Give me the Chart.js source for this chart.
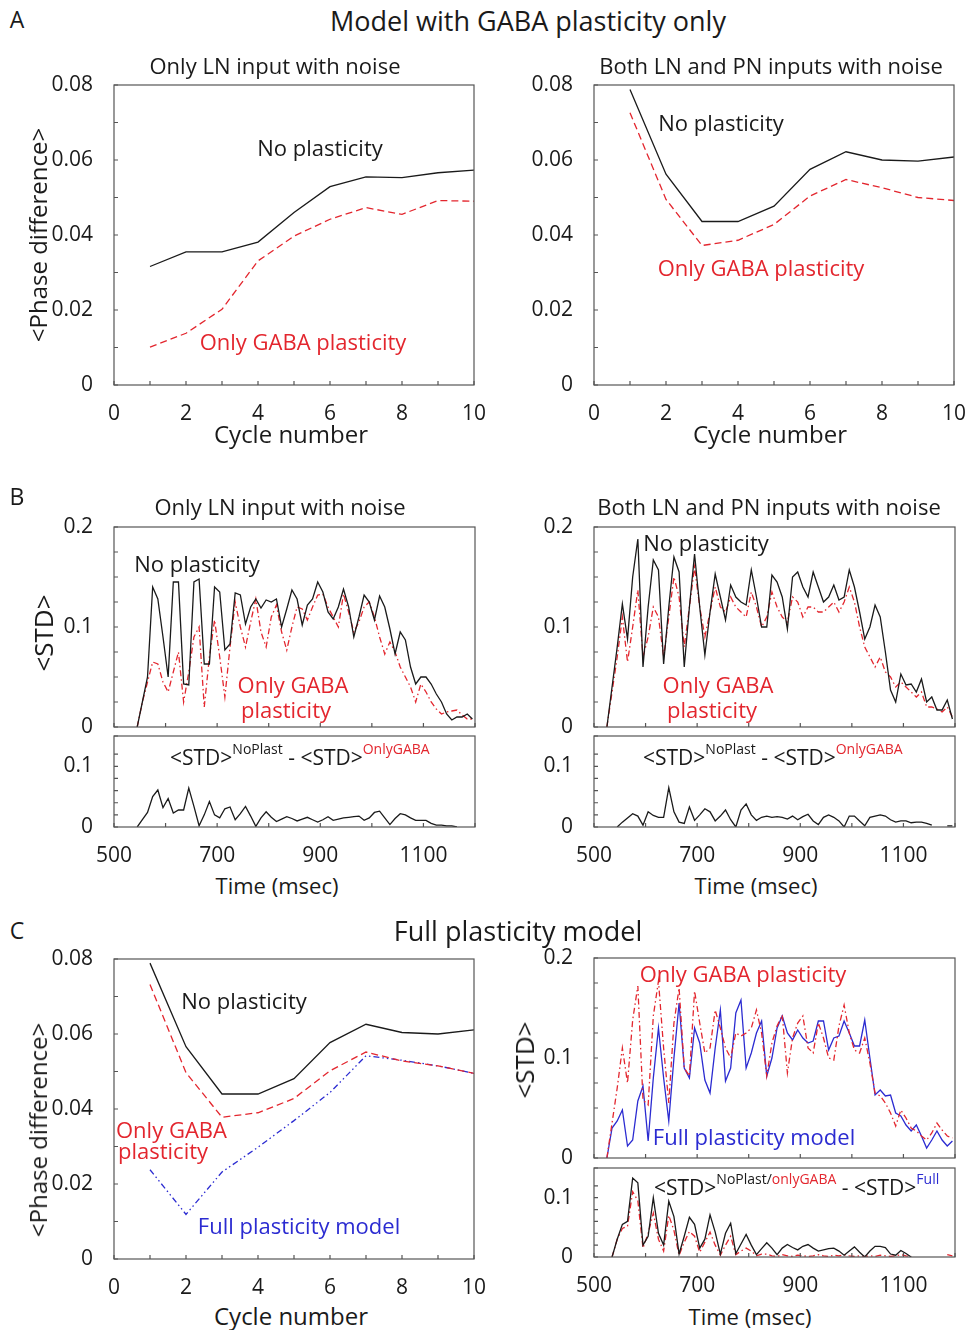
<!DOCTYPE html>
<html>
<head>
<meta charset="utf-8">
<script src="https://cdn.jsdelivr.net/npm/chart.js@4"></script>
<style>
  body { margin: 0; background: #fff; }
  #fig { position: relative; width: 972px; height: 1330px; font-family: "Open Sans", sans-serif; color: #1a1a1a; overflow: hidden; }
  .t { position: absolute; white-space: nowrap; line-height: 1; transform: translate(-50%, -50%); }
  .l { position: absolute; white-space: nowrap; line-height: 1; transform: translate(0, -50%); }
  .rot { position: absolute; white-space: nowrap; line-height: 1; transform: translate(-50%, -50%) rotate(-90deg); font-size: 24px; }
  .red { color: #e3262e; }
  .blue { color: #2b2bd1; }
  .sup { font-size: 14px; position: relative; top: -11px; }
</style>
</head>
<body>
<div id="fig">
  <div class="t" style="left:17px;top:19px;font-size:23px">A</div>
  <div class="t" style="left:528px;top:20px;font-size:27px">Model with GABA plasticity only</div>
  <div class="t" style="left:275px;top:65px;font-size:22px">Only LN input with noise</div>
  <div class="t" style="left:771px;top:65px;font-size:22px">Both LN and PN inputs with noise</div>
  <div class="rot" style="left:38px;top:235px">&lt;Phase difference&gt;</div>
  <div class="t" style="left:291px;top:434px;font-size:24px">Cycle number</div>
  <div class="t" style="left:770px;top:434px;font-size:24px">Cycle number</div>
  <div class="t" style="left:320px;top:147px;font-size:22px">No plasticity</div>
  <div class="t red" style="left:303px;top:341px;font-size:22px">Only GABA plasticity</div>
  <div class="t" style="left:721px;top:122px;font-size:22px">No plasticity</div>
  <div class="t red" style="left:761px;top:267px;font-size:22px">Only GABA plasticity</div>

  <div class="t" style="left:17px;top:496px;font-size:23px">B</div>
  <div class="t" style="left:280px;top:506px;font-size:22px">Only LN input with noise</div>
  <div class="t" style="left:769px;top:506px;font-size:22px">Both LN and PN inputs with noise</div>
  <div class="rot" style="left:43px;top:633px;font-size:26px">&lt;STD&gt;</div>
  <div class="t" style="left:197px;top:563px;font-size:22px">No plasticity</div>
  <div class="t red" style="left:293px;top:684px;font-size:22px">Only GABA</div>
  <div class="t red" style="left:286px;top:709px;font-size:22px">plasticity</div>
  <div class="l" style="left:170px;top:757px;font-size:21px">&lt;STD&gt;<span class="sup">NoPlast</span> - &lt;STD&gt;<span class="sup red">OnlyGABA</span></div>
  <div class="t" style="left:277px;top:885px;font-size:22px">Time (msec)</div>
  <div class="t" style="left:706px;top:542px;font-size:22px">No plasticity</div>
  <div class="t red" style="left:718px;top:684px;font-size:22px">Only GABA</div>
  <div class="t red" style="left:712px;top:709px;font-size:22px">plasticity</div>
  <div class="l" style="left:643px;top:757px;font-size:21px">&lt;STD&gt;<span class="sup">NoPlast</span> - &lt;STD&gt;<span class="sup red">OnlyGABA</span></div>
  <div class="t" style="left:756px;top:885px;font-size:22px">Time (msec)</div>

  <div class="t" style="left:17px;top:930px;font-size:23px">C</div>
  <div class="t" style="left:518px;top:930px;font-size:27px">Full plasticity model</div>
  <div class="rot" style="left:38px;top:1130px">&lt;Phase difference&gt;</div>
  <div class="t" style="left:244px;top:1000px;font-size:22px">No plasticity</div>
  <div class="l red" style="left:116px;top:1129px;font-size:22px">Only GABA</div>
  <div class="l red" style="left:118px;top:1150px;font-size:22px">plasticity</div>
  <div class="t blue" style="left:299px;top:1225px;font-size:22px">Full plasticity model</div>
  <div class="t" style="left:291px;top:1316px;font-size:24px">Cycle number</div>
  <div class="rot" style="left:524px;top:1060px;font-size:26px">&lt;STD&gt;</div>
  <div class="t red" style="left:743px;top:973px;font-size:22px">Only GABA plasticity</div>
  <div class="t blue" style="left:754px;top:1136px;font-size:22px">Full plasticity model</div>
  <div class="l" style="left:654px;top:1187px;font-size:21px">&lt;STD&gt;<span class="sup">NoPlast/<span class="red">onlyGABA</span></span> - &lt;STD&gt;<span class="sup blue">Full</span></div>
  <div class="t" style="left:750px;top:1316px;font-size:22px">Time (msec)</div>
</div>

<script>
// ---- data ----
const cycles = [1, 2, 3, 4, 5, 6, 7, 8, 9, 10];
const cycleTicks = [0, 2, 4, 6, 8, 10];
const phaseTicks = [0, 0.02, 0.04, 0.06, 0.08];

const aLeftNoPlast = [0.0316, 0.0355, 0.0355, 0.0381, 0.046, 0.0529, 0.0555, 0.0553, 0.0566, 0.0573];
const aLeftGaba = [0.0101, 0.0138, 0.0202, 0.0331, 0.0397, 0.0442, 0.0473, 0.0455, 0.0492, 0.049];
const aRightNoPlast = [0.0788, 0.0562, 0.0436, 0.0436, 0.0477, 0.0575, 0.0622, 0.06, 0.0597, 0.0608];
const aRightGaba = [0.0726, 0.0495, 0.0372, 0.0386, 0.0428, 0.0504, 0.0548, 0.0526, 0.05, 0.0492];
const cNoPlast = [0.0789, 0.0566, 0.044, 0.044, 0.0481, 0.0577, 0.0626, 0.0604, 0.06, 0.0611];
const cGaba = [0.0732, 0.0497, 0.0378, 0.039, 0.0428, 0.0502, 0.0552, 0.0528, 0.0515, 0.0495];
const cFull = [0.0238, 0.0119, 0.0232, 0.0298, 0.0369, 0.0444, 0.0542, 0.053, 0.0515, 0.0495];

const timeTicks = [500, 700, 900, 1100];
const stdTicks = [0, 0.1, 0.2];
const diffTicks = [0, 0.1];

const timeMs = [
  525, 535, 545, 555, 565, 575, 585, 595, 605, 615,
  625, 635, 645, 655, 665, 675, 685, 695, 705, 715,
  725, 735, 745, 755, 765, 775, 785, 795, 805, 815,
  825, 835, 845, 855, 865, 875, 885, 895, 905, 915,
  925, 935, 945, 955, 965, 975, 985, 995, 1005, 1015,
  1025, 1035, 1045, 1055, 1065, 1075, 1085, 1095, 1105, 1115,
  1125, 1135, 1145, 1155, 1165, 1175, 1185, 1195
];

const bLeftNoPlast = [
  null, null, 0, 0.025, 0.05, 0.14, 0.128, 0.09, 0.05, 0.145,
  0.145, 0.043, 0.042, 0.145, 0.148, 0.063, 0.063, 0.14, 0.135, 0.077,
  0.083, 0.134, 0.132, 0.103, 0.12, 0.128, 0.119, 0.127, 0.125, 0.128,
  0.1, 0.118, 0.137, 0.128, 0.102, 0.122, 0.128, 0.145, 0.135, 0.115,
  0.108, 0.12, 0.138, 0.12, 0.09, 0.11, 0.132, 0.125, 0.107, 0.131,
  0.12, 0.098, 0.073, 0.095, 0.087, 0.06, 0.043, 0.05, 0.05, 0.043,
  0.033, 0.025, 0.013, 0.007, 0.01, 0.01, 0.013, 0.008
];
const bLeftGaba = [
  null, null, 0, 0.025, 0.045, 0.065, 0.063, 0.045, 0.035, 0.055,
  0.075, 0.025, 0.055, 0.09, 0.1, 0.02, 0.07, 0.107, 0.07, 0.03,
  0.08, 0.125, 0.1, 0.08, 0.105, 0.128, 0.095, 0.08, 0.11, 0.122,
  0.095, 0.077, 0.1, 0.12, 0.118, 0.107, 0.12, 0.132, 0.133, 0.12,
  0.11, 0.1, 0.133, 0.115, 0.095, 0.105, 0.12, 0.125, 0.11, 0.09,
  0.073, 0.085, 0.075, 0.06, 0.05, 0.04, 0.025, 0.043, 0.035, 0.025,
  0.018, 0.013, 0.015, 0.016, 0.017, 0.012, 0.008, 0.008
];
const bLeftDiff = [
  null, null, 0, 0.012, 0.024, 0.05, 0.061, 0.032, 0.047, 0.023,
  0.028, 0.028, 0.064, 0.034, 0.002, 0.02, 0.042, 0.02, 0.015, 0.03,
  0.033, 0.012, 0.022, 0.034, 0.018, 0.001, 0.015, 0.025, 0.016, 0.009,
  0.013, 0.017, 0.014, 0.01, 0.013, 0.016, 0.012, 0.008, 0.012, 0.017,
  0.011, 0.013, 0.015, 0.016, 0.017, 0.018, 0.011, 0.015, 0.024, 0.026,
  0.015, 0.004, 0.014, 0.022, 0.02, 0.015, 0.011, 0.011, 0.011, 0.006,
  0.003, 0.003, 0.002, 0.002, 0, null, null, null
];

const bRightNoPlast = [
  0, 0.04, 0.08, 0.123, 0.088, 0.15, 0.188, 0.06, 0.12, 0.167,
  0.157, 0.063, 0.12, 0.17, 0.155, 0.06, 0.12, 0.173, 0.12, 0.072,
  0.115, 0.153, 0.13, 0.107, 0.142, 0.13, 0.125, 0.122, 0.157, 0.13,
  0.1, 0.1, 0.152, 0.145, 0.13, 0.098, 0.15, 0.155, 0.14, 0.13,
  0.155, 0.14, 0.125, 0.13, 0.142, 0.127, 0.13, 0.157, 0.14, 0.115,
  0.088, 0.1, 0.122, 0.11, 0.075, 0.037, 0.025, 0.053, 0.042, 0.043,
  0.035, 0.048, 0.025, 0.03, 0.017, 0.017, 0.027, 0.008
];
const bRightGaba = [
  0, 0.035, 0.07, 0.11, 0.065, 0.1, 0.137, 0.07, 0.09, 0.12,
  0.11, 0.07, 0.11, 0.15, 0.13, 0.08, 0.12, 0.16, 0.12, 0.09,
  0.115, 0.14, 0.12, 0.115, 0.13, 0.12, 0.115, 0.11, 0.135, 0.12,
  0.1, 0.11, 0.135, 0.12, 0.11, 0.105, 0.13, 0.125, 0.11, 0.12,
  0.12, 0.115, 0.115, 0.12, 0.125, 0.115, 0.125, 0.14, 0.125, 0.1,
  0.08, 0.07, 0.06, 0.07, 0.055, 0.05, 0.04, 0.045, 0.04, 0.035,
  0.03, 0.035, 0.02, 0.02, 0.018, 0.015, 0.02, 0.01
];
const bRightDiff = [
  null, null, 0, 0.008, 0.015, 0.022, 0.018, 0.003, 0.025, 0.019,
  0.016, 0.016, 0.065, 0.025, 0.008, 0.006, 0.033, 0.011, 0.02, 0.03,
  0.025, 0.01, 0.018, 0.028, 0.012, 0, 0.028, 0.038, 0.02, 0.011,
  0.016, 0.018, 0.016, 0.017, 0.016, 0.013, 0.018, 0.012, 0.017, 0.021,
  0.01, 0.004, 0.016, 0.02, 0.016, 0.01, 0, 0.018, 0.018, 0.01,
  0.002, 0.016, 0.018, 0.02, 0.018, 0.012, 0.008, 0.01, 0.01, 0.007,
  0.008, 0.008, 0.006, 0.003, null, null, 0.002, 0.002
];

const cRightGaba = [
  0, 0.035, 0.07, 0.11, 0.075, 0.138, 0.172, 0.058, 0.053, 0.142,
  0.177, 0.11, 0.055, 0.135, 0.17, 0.09, 0.082, 0.167, 0.135, 0.105,
  0.11, 0.148, 0.13, 0.11, 0.1, 0.125, 0.122, 0.125, 0.13, 0.148,
  0.125, 0.082, 0.115, 0.132, 0.143, 0.085, 0.12, 0.135, 0.142, 0.11,
  0.105, 0.135, 0.12, 0.1, 0.098, 0.132, 0.153, 0.125, 0.108, 0.105,
  0.12, 0.095, 0.065, 0.062, 0.055, 0.045, 0.032, 0.048, 0.04, 0.03,
  0.027, 0.022, 0.018, 0.025, 0.035, 0.028, 0.022, 0.02
];
const cRightFull = [
  0, 0.03, 0.037, 0.048, 0.012, 0.018, 0.057, 0.072, 0.017, 0.08,
  0.13, 0.08, 0.037, 0.1, 0.155, 0.09, 0.08, 0.13, 0.115, 0.078,
  0.065, 0.11, 0.148, 0.077, 0.09, 0.145, 0.158, 0.09, 0.105, 0.125,
  0.137, 0.082, 0.1, 0.13, 0.142, 0.125, 0.118, 0.128, 0.12, 0.115,
  0.117, 0.137, 0.137, 0.108, 0.12, 0.122, 0.137, 0.125, 0.112, 0.112,
  0.138, 0.1, 0.063, 0.068, 0.062, 0.063, 0.045, 0.042, 0.033, 0.027,
  0.033, 0.022, 0.01, 0.018, 0.027, 0.018, 0.012, 0.017
];
const cRightDiffNoPlast = [
  null, 0, 0.03, 0.055, 0.06, 0.133, 0.125, 0.02, 0.035, 0.1,
  0.04, 0.02, 0.094, 0.068, 0.005, 0.035, 0.067, 0.055, 0.015, 0.03,
  0.071, 0.042, 0.005, 0.04, 0.057, 0.006, 0.022, 0.038, 0.02, 0.004,
  0.014, 0.024, 0.015, 0.004, 0.015, 0.021, 0.016, 0.012, 0.018, 0.021,
  0.015, 0.01, 0.012, 0.014, 0.015, 0.01, 0.003, 0.01, 0.017, 0.008,
  0, 0.01, 0.018, 0.018, 0.016, 0.005, 0.003, 0.011, 0.006, 0,
  null, null, null, null, null, null, null, null
];
const cRightDiffGaba = [
  null, 0, 0.03, 0.048, 0.052, 0.11, 0.095, 0.015, 0.04, 0.074,
  0.03, 0.01, 0.07, 0.045, 0.003, 0.025, 0.043, 0.035, 0.008, 0.025,
  0.042, 0.02, 0.003, 0.02, 0.035, 0.004, 0.01, 0.015, 0.01, 0.002,
  0.005, 0.005, 0.002, 0.001, 0.004, 0.002, 0.001, 0.003, 0.002, 0.001,
  0.002, 0.004, 0.002, 0.001, 0.003, 0.002, 0.004, 0.002, 0.001, 0.002,
  0.001, 0.002, 0.001, 0.003, 0.002, 0.001, 0.002, 0.004, 0.002, 0.001,
  null, null, null, null, null, null, 0.004, 0.002
];

// ---- styles ----
const INK = '#1a1a1a';
const RED = '#e3262e';
const BLUE = '#2b2bd1';
const DASH = [7, 4];
const DASHDOT = [6, 3, 1.5, 3];
const DASHDOTDOT = [6, 3, 1.5, 3, 1.5, 3];
const TICK_FONT = { family: '"Open Sans", sans-serif', size: 21 };
const PAD = { l: 70, r: 22, t: 14 };

const fig = document.getElementById('fig');

// box round the plot and short inward ticks, like the original
const framePlugin = {
  id: 'frame',
  afterDraw(chart) {
    const { ctx, chartArea: a, scales } = chart;
    ctx.save();
    ctx.strokeStyle = '#555';
    ctx.lineWidth = 1.2;
    ctx.strokeRect(a.left, a.top, a.right - a.left, a.bottom - a.top);
    ctx.beginPath();
    scales.x.ticks.forEach(t => {
      const px = scales.x.getPixelForValue(t.value);
      ctx.moveTo(px, a.bottom);
      ctx.lineTo(px, a.bottom - 4);
    });
    scales.y.ticks.forEach(t => {
      const py = scales.y.getPixelForValue(t.value);
      ctx.moveTo(a.left, py);
      ctx.lineTo(a.left + 4, py);
    });
    ctx.stroke();
    ctx.restore();
  }
};

function tickLabel(v, labels) {
  const r = Math.round(v * 1000) / 1000;
  return labels.some(l => Math.abs(l - r) < 1e-9) ? String(r) : '';
}

function addPanel(box, xs, series, xCfg, yCfg, padB) {
  const W = box.w + PAD.l + PAD.r, H = box.h + PAD.t + padB;
  const cv = document.createElement('canvas');
  cv.width = W;
  cv.height = H;
  cv.style.cssText = `position:absolute;left:${box.x - PAD.l}px;top:${box.y - PAD.t}px;width:${W}px;height:${H}px`;
  fig.insertBefore(cv, fig.firstChild);

  new Chart(cv, {
    type: 'line',
    data: {
      datasets: series.map(s => ({
        data: xs.map((x, i) => ({ x, y: s.values[i] })),
        borderColor: s.color,
        borderWidth: 1.3,
        borderDash: s.dash || [],
        pointRadius: 0,
        tension: 0,
        fill: false,
        spanGaps: false
      }))
    },
    options: {
      responsive: false,
      animation: false,
      events: [],
      layout: { padding: { top: PAD.t, right: PAD.r, left: 0, bottom: 0 } },
      plugins: { legend: { display: false }, tooltip: { enabled: false } },
      scales: {
        x: {
          type: 'linear', min: xCfg.min, max: xCfg.max,
          grid: { display: false }, border: { display: false },
          ticks: {
            stepSize: xCfg.step, autoSkip: false, maxRotation: 0, padding: 8,
            color: INK, font: TICK_FONT,
            callback: v => (xCfg.labels ? tickLabel(v, xCfg.labels) : '')
          },
          afterFit: s => { s.height = padB; s.paddingLeft = 0; s.paddingRight = 0; }
        },
        y: {
          min: yCfg.min, max: yCfg.max,
          grid: { display: false }, border: { display: false },
          ticks: {
            stepSize: yCfg.step, autoSkip: false, padding: 13,
            color: INK, font: TICK_FONT,
            callback: v => tickLabel(v, yCfg.labels)
          },
          afterFit: s => { s.width = PAD.l; s.paddingTop = 0; s.paddingBottom = 0; }
        }
      }
    },
    plugins: [framePlugin]
  });
}

const cycleX = { min: 0, max: 10, step: 1, labels: cycleTicks };
const phaseY = { min: 0, max: 0.08, step: 0.01, labels: phaseTicks };
const timeX = { min: 500, max: 1200, step: 100, labels: timeTicks };
const timeXNoLabels = { min: 500, max: 1200, step: 100, labels: null };
const stdY = { min: 0, max: 0.2, step: 0.025, labels: stdTicks };
const diffY = { min: 0, max: 0.15, step: 0.02, labels: diffTicks };

// A
addPanel({ x: 114, y: 85, w: 360, h: 300 }, cycles, [
  { values: aLeftNoPlast, color: INK },
  { values: aLeftGaba, color: RED, dash: DASH }
], cycleX, phaseY, 40);
addPanel({ x: 594, y: 85, w: 360, h: 300 }, cycles, [
  { values: aRightNoPlast, color: INK },
  { values: aRightGaba, color: RED, dash: DASH }
], cycleX, phaseY, 40);

// B
addPanel({ x: 114, y: 527, w: 361, h: 200 }, timeMs, [
  { values: bLeftNoPlast, color: INK },
  { values: bLeftGaba, color: RED, dash: DASHDOT }
], timeXNoLabels, stdY, 14);
addPanel({ x: 114, y: 736, w: 361, h: 91 }, timeMs, [
  { values: bLeftDiff, color: INK }
], timeX, diffY, 40);
addPanel({ x: 594, y: 527, w: 361, h: 200 }, timeMs, [
  { values: bRightNoPlast, color: INK },
  { values: bRightGaba, color: RED, dash: DASHDOT }
], timeXNoLabels, stdY, 14);
addPanel({ x: 594, y: 736, w: 361, h: 91 }, timeMs, [
  { values: bRightDiff, color: INK }
], timeX, diffY, 40);

// C
addPanel({ x: 114, y: 959, w: 360, h: 300 }, cycles, [
  { values: cNoPlast, color: INK },
  { values: cGaba, color: RED, dash: DASH },
  { values: cFull, color: BLUE, dash: DASHDOTDOT }
], cycleX, phaseY, 40);
addPanel({ x: 594, y: 958, w: 361, h: 200 }, timeMs, [
  { values: cRightGaba, color: RED, dash: DASHDOT },
  { values: cRightFull, color: BLUE }
], timeXNoLabels, stdY, 14);
addPanel({ x: 594, y: 1168, w: 361, h: 89 }, timeMs, [
  { values: cRightDiffNoPlast, color: INK },
  { values: cRightDiffGaba, color: RED, dash: DASHDOT }
], timeX, diffY, 40);
</script>
</body>
</html>
